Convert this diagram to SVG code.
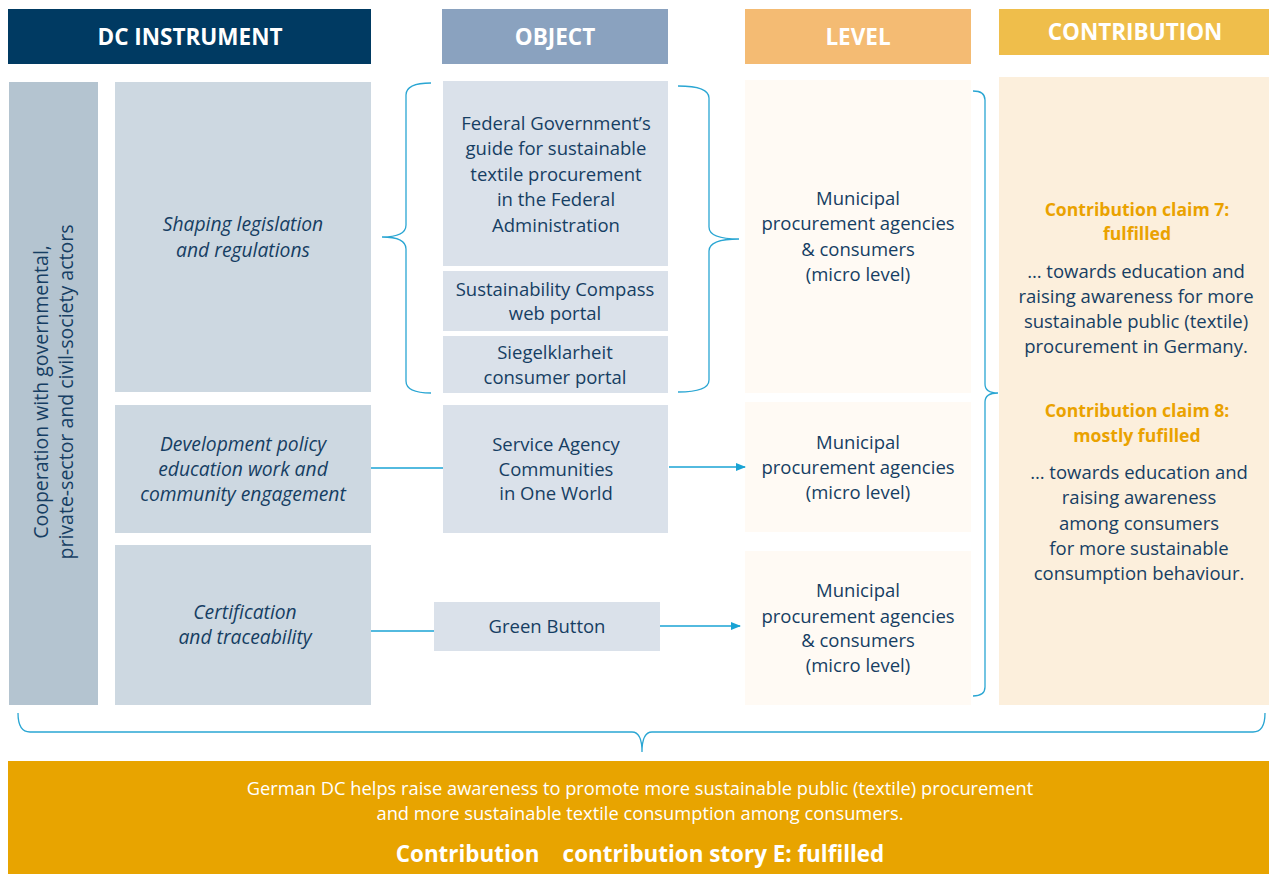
<svg xmlns="http://www.w3.org/2000/svg" width="1269" height="874" viewBox="0 0 1269 874">
<style>
.t{font-family:"Open Sans","Noto Sans",sans-serif;font-size:18.5px;fill:#163e63;text-anchor:middle}
.i{font-style:italic;font-size:19.3px}
.v{font-size:19.5px}
.h{font-family:"Open Sans","Noto Sans",sans-serif;font-size:22.5px;font-weight:bold;fill:#fff;text-anchor:middle}
.c{font-family:"Open Sans","Noto Sans",sans-serif;font-size:17.6px;font-weight:bold;fill:#eaa200;text-anchor:middle}
.w{font-family:"Open Sans","Noto Sans",sans-serif;fill:#fff;text-anchor:middle}
.ln{stroke:#1aa3d4;stroke-width:1.5;fill:none}
.br{stroke:#2aa6d3;stroke-width:1.3;fill:none}
.dc{fill:#cdd8e1}
.ob{fill:#dae1ea}
.lv{fill:#fffaf4}
</style>
<defs>
<marker id="ah" markerWidth="10" markerHeight="8" refX="9" refY="4" orient="auto" markerUnits="userSpaceOnUse">
<path d="M0,0 L10,4 L0,8 Z" fill="#1aa3d4"/>
</marker>
</defs>
<rect width="1269" height="874" fill="#fff"/>

<g id="headers">
<rect x="8" y="9" width="363" height="55" fill="#003a62"/>
<text class="h" x="190" y="45">DC INSTRUMENT</text>
<rect x="442" y="9" width="226" height="55" fill="#8aa2bf"/>
<text class="h" x="555" y="45">OBJECT</text>
<rect x="745" y="9" width="226" height="55" fill="#f4bb73"/>
<text class="h" x="858" y="45">LEVEL</text>
<rect x="999" y="9" width="270" height="46" fill="#efbe4b"/>
<text class="h" x="1135" y="40">CONTRIBUTION</text>
</g>

<g id="cooperation">
<rect x="9" y="82" width="89" height="623" fill="#b4c4d0"/>
<text class="t v" transform="translate(48,392) rotate(-90)">Cooperation with governmental,</text>
<text class="t v" transform="translate(73,392) rotate(-90)">private-sector and civil-society actors</text>
</g>

<g id="inst1">
<rect class="dc" x="115" y="82" width="256" height="310"/>
<text class="t i" x="243" y="231">Shaping legislation</text>
<text class="t i" x="243" y="257">and regulations</text>
</g>
<g id="inst2">
<rect class="dc" x="115" y="405" width="256" height="128"/>
<text class="t i" x="243" y="451">Development policy</text>
<text class="t i" x="243" y="476">education work and</text>
<text class="t i" x="243" y="501">community engagement</text>
</g>
<g id="inst3">
<rect class="dc" x="115" y="545" width="256" height="160"/>
<text class="t i" x="245" y="619">Certification</text>
<text class="t i" x="245" y="644">and traceability</text>
</g>

<g id="obj1">
<rect class="ob" x="443" y="81" width="225" height="185"/>
<text class="t" x="556" y="130">Federal Government’s</text>
<text class="t" x="556" y="155">guide for sustainable</text>
<text class="t" x="556" y="181">textile procurement</text>
<text class="t" x="556" y="206">in the Federal</text>
<text class="t" x="556" y="232">Administration</text>
</g>
<g id="obj2">
<rect class="ob" x="443" y="271" width="225" height="60"/>
<text class="t" x="555" y="296">Sustainability Compass</text>
<text class="t" x="555" y="320">web portal</text>
</g>
<g id="obj3">
<rect class="ob" x="443" y="336" width="225" height="57"/>
<text class="t" x="555" y="359">Siegelklarheit</text>
<text class="t" x="555" y="384">consumer portal</text>
</g>
<g id="obj4">
<rect class="ob" x="443" y="405" width="225" height="128"/>
<text class="t" x="556" y="451">Service Agency</text>
<text class="t" x="556" y="476">Communities</text>
<text class="t" x="556" y="500">in One World</text>
</g>
<g id="obj5">
<rect class="ob" x="434" y="602" width="226" height="49"/>
<text class="t" x="547" y="633">Green Button</text>
</g>

<g id="lvl1">
<rect class="lv" x="745" y="80" width="226" height="313"/>
<text class="t" x="858" y="205">Municipal</text>
<text class="t" x="858" y="230">procurement agencies</text>
<text class="t" x="858" y="256">&amp; consumers</text>
<text class="t" x="858" y="281">(micro level)</text>
</g>
<g id="lvl2">
<rect class="lv" x="745" y="402" width="226" height="130"/>
<text class="t" x="858" y="449">Municipal</text>
<text class="t" x="858" y="474">procurement agencies</text>
<text class="t" x="858" y="499">(micro level)</text>
</g>
<g id="lvl3">
<rect class="lv" x="745" y="551" width="226" height="154"/>
<text class="t" x="858" y="597">Municipal</text>
<text class="t" x="858" y="623">procurement agencies</text>
<text class="t" x="858" y="647">&amp; consumers</text>
<text class="t" x="858" y="672">(micro level)</text>
</g>

<g id="contribution">
<rect x="999" y="77" width="270" height="628" fill="#fcefdc"/>
<text class="c" x="1137" y="216">Contribution claim 7:</text>
<text class="c" x="1137" y="240">fulfilled</text>
<text class="t" x="1136" y="278">… towards education and</text>
<text class="t" x="1136" y="303">raising awareness for more</text>
<text class="t" x="1136" y="328">sustainable public (textile)</text>
<text class="t" x="1136" y="353">procurement in Germany.</text>
<text class="c" x="1137" y="417">Contribution claim 8:</text>
<text class="c" x="1137" y="442">mostly fufilled</text>
<text class="t" x="1139" y="479">… towards education and</text>
<text class="t" x="1139" y="504">raising awareness</text>
<text class="t" x="1139" y="530">among consumers</text>
<text class="t" x="1139" y="555">for more sustainable</text>
<text class="t" x="1139" y="580">consumption behaviour.</text>
</g>

<g id="summary">
<rect x="8" y="761" width="1261" height="113" fill="#e8a400"/>
<text class="w" x="640" y="795" font-size="18.3">German DC helps raise awareness to promote more sustainable public (textile) procurement</text>
<text class="w" x="640" y="820" font-size="18.3">and more sustainable textile consumption among consumers.</text>
<text class="w" x="640" y="862" font-size="22.4" font-weight="bold" xml:space="preserve">Contribution    contribution story E: fulfilled</text>
</g>

<g id="connectors">
<path class="br" d="M431,83 Q406,83 406,95 L406,225 Q406,237 382,237 Q406,237 406,249 L406,381 Q406,393 431,393"/>
<path class="br" d="M678,86 Q709,86 709,98 L709,227 Q709,239 739,239 Q709,239 709,251 L709,380 Q709,392 678,392"/>
<path class="br" d="M973,91 Q985,91 985,100 L985,384 Q985,393 998,393 Q985,393 985,402 L985,687 Q985,696 973,696"/>
<path class="br" d="M18,713 Q18,732 30,732 L632,732 Q642,732 642,752 Q642,732 652,732 L1253,732 Q1265,732 1265,713"/>
<line class="ln" x1="371" y1="468" x2="443" y2="468"/>
<line class="ln" x1="669" y1="467" x2="745" y2="467" marker-end="url(#ah)"/>
<line class="ln" x1="371" y1="631" x2="434" y2="631"/>
<line class="ln" x1="660" y1="626" x2="740" y2="626" marker-end="url(#ah)"/>
</g>
</svg>
